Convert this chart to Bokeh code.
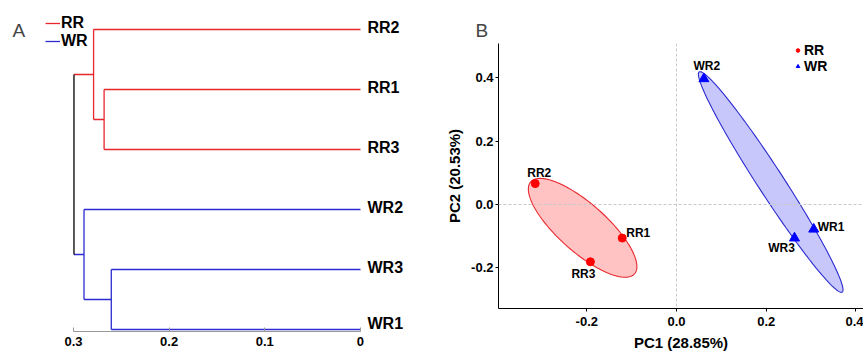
import numpy as np
from jinja2 import Template
from bokeh.plotting import figure
from bokeh.models import (Range1d, LinearAxis, FixedTicker, Legend, LegendItem,
                          Label, Span, ColumnDataSource)
from bokeh.core.properties import value
from bokeh.embed import file_html
from bokeh.resources import INLINE

FONT = "Liberation Sans"

# ---------------- data: dendrogram (panel A) ----------------
leaf_names = ["RR2", "RR1", "RR3", "WR2", "WR3", "WR1"]
leaf_group = ["RR", "RR", "RR", "WR", "WR", "WR"]
# merges: (child a, child b, height); leaves are 0..5, new nodes numbered 6..
merge_a = [1, 0, 4, 3, 7]
merge_b = [2, 6, 5, 8, 9]
merge_h = [0.268, 0.279, 0.2605, 0.289, 0.2995]
dist_ticks = [0, 0.1, 0.2, 0.3]
dist_tick_labels = ["0", "0.1", "0.2", "0.3"]

# ---------------- data: PCA (panel B) ----------------
pc_labels = ["RR1", "RR2", "RR3", "WR1", "WR2", "WR3"]
pc_group = ["RR", "RR", "RR", "WR", "WR", "WR"]
pc1 = [-0.121, -0.315, -0.192, 0.306, 0.061, 0.263]
pc2 = [-0.106, 0.066, -0.181, -0.078, 0.397, -0.106]
pc_ticks = [-0.2, 0.0, 0.2, 0.4]
pc_tick_labels = ["-0.2", "0.0", "0.2", "0.4"]
pc1_title = "PC1 (28.85%)"
pc2_title = "PC2 (20.53%)"
ellipse_level = 0.68

# ---------------- styles ----------------
RED = "#E8262B"
BLUE = "#2B2BD0"
group_color = {"RR": RED, "WR": BLUE}
leaf_dy = [-2, -2, -2, -2, -2, -6]          # leaf label offsets in px
lab_dx = [4, 4, -7, 4, 3, -13]               # PCA label offsets in px
lab_dy = [-5, -11, 12, -2, -13, 10]
lab_align = ["left", "center", "center", "left", "center", "center"]

# ================= Panel A =================
pA = figure(width=430, height=352, x_range=Range1d(0.3763, -0.0732),
            y_range=Range1d(0.967, 6.483), output_backend="svg",
            toolbar_location=None, x_axis_location=None, y_axis_location=None,
            min_border_left=0, min_border_right=0, min_border_top=0,
            min_border_bottom=21)
pA.outline_line_color = None
pA.grid.visible = False

n = len(leaf_names)
node_y = [float(n - i) for i in range(n)]
node_h = [0.0] * n
node_grp = list(leaf_group)
segs = {"RR": dict(x0=[], y0=[], x1=[], y1=[]),
        "WR": dict(x0=[], y0=[], x1=[], y1=[]),
        "root": dict(x0=[], y0=[], x1=[], y1=[])}

def add(key, x0, y0, x1, y1):
    s = segs[key]
    s["x0"].append(x0); s["y0"].append(y0); s["x1"].append(x1); s["y1"].append(y1)

for a, b, h in zip(merge_a, merge_b, merge_h):
    ga, gb = node_grp[a], node_grp[b]
    g = ga if ga == gb else "root"
    add(ga, node_h[a], node_y[a], h, node_y[a])
    add(gb, node_h[b], node_y[b], h, node_y[b])
    add(g, h, node_y[a], h, node_y[b])
    node_y.append((node_y[a] + node_y[b]) / 2)
    node_h.append(h)
    node_grp.append(g)

r_red = pA.segment(source=ColumnDataSource(segs["RR"]), x0="x0", y0="y0", x1="x1", y1="y1",
                   line_color=RED, line_width=1.3)
r_blue = pA.segment(source=ColumnDataSource(segs["WR"]), x0="x0", y0="y0", x1="x1", y1="y1",
                    line_color=BLUE, line_width=1.3)
pA.segment(source=ColumnDataSource(segs["root"]), x0="x0", y0="y0", x1="x1", y1="y1",
           line_color="black", line_width=1.3)

pA.text(source=ColumnDataSource(dict(x=[0.0] * n, y=node_y[:n], text=leaf_names, dy=leaf_dy)),
        x="x", y="y", text="text", x_offset=7, y_offset="dy",
        text_baseline="middle", text_align="left", text_font=value(FONT),
        text_font_style="bold", text_font_size="16px", text_color="black")

axA = LinearAxis(bounds=(0, 0.3), ticker=FixedTicker(ticks=dist_ticks),
                 major_label_overrides=dict(zip(dist_ticks, dist_tick_labels)))
axA.axis_line_color = "#999999"
axA.major_tick_line_color = "#999999"
axA.major_tick_in = 4
axA.major_tick_out = 0
axA.minor_tick_line_color = None
axA.major_label_standoff = 5
axA.major_label_text_font = FONT
axA.major_label_text_font_style = "bold"
axA.major_label_text_font_size = "13px"
axA.major_label_text_color = "black"
pA.add_layout(axA, "below")

legA = Legend(items=[LegendItem(label="RR", renderers=[r_red]),
                     LegendItem(label="WR", renderers=[r_blue])],
              location=(45, 281), orientation="vertical", glyph_width=15,
              glyph_height=18, label_height=18, spacing=0, padding=0, margin=0,
              label_standoff=1, border_line_alpha=0, background_fill_alpha=0,
              label_text_font=FONT, label_text_font_style="bold",
              label_text_font_size="16px", label_text_color="black")
pA.add_layout(legA, "center")
pA.add_layout(Label(x=12, y=301, x_units="screen", y_units="screen", text="A",
                    text_font=FONT, text_font_size="19px", text_baseline="middle"))

# ================= Panel B =================
pB = figure(width=433, height=356, x_range=Range1d(-0.3969, 0.4169),
            y_range=Range1d(-0.3284, 0.5084), output_backend="svg",
            toolbar_location=None, min_border_left=68, min_border_right=0,
            min_border_top=43, min_border_bottom=48)
pB.outline_line_color = None
pB.grid.visible = False
pB.title.text = "B"
pB.title.text_font = FONT
pB.title.text_font_style = "normal"
pB.title.text_font_size = "19px"
pB.title.align = "left"
pB.title.offset = -23
pB.title.standoff = 5

pB.add_layout(Span(location=0, dimension="width", line_color="#C8C8C8",
                   line_dash="3 2", line_width=1))
pB.add_layout(Span(location=0, dimension="height", line_color="#C8C8C8",
                   line_dash="3 2", line_width=1))

t = np.linspace(0, 2 * np.pi, 200)
k2 = -2 * np.log(1 - ellipse_level)
fills = {"RR": ("#FF2020", 0.27), "WR": ("#3535F0", 0.28)}
x_arr = np.array(pc1); y_arr = np.array(pc2); g_arr = np.array(pc_group)
for g in ["RR", "WR"]:
    m = g_arr == g
    pts = np.vstack([x_arr[m], y_arr[m]])
    mu = pts.mean(axis=1)
    cov = np.cov(pts, bias=True)
    L = np.linalg.cholesky(k2 * cov)
    e = mu[:, None] + L @ np.vstack([np.cos(t), np.sin(t)])
    pB.patch(e[0], e[1], fill_color=fills[g][0], fill_alpha=fills[g][1],
             line_color=group_color[g], line_width=1.1)

src_rr = ColumnDataSource(dict(x=x_arr[g_arr == "RR"], y=y_arr[g_arr == "RR"]))
src_wr = ColumnDataSource(dict(x=x_arr[g_arr == "WR"], y=y_arr[g_arr == "WR"]))
s_rr = pB.scatter("x", "y", source=src_rr, marker="circle", size=8,
                  fill_color="#FF0000", line_color="#FF0000")
s_wr = pB.scatter("x", "y", source=src_wr, marker="triangle", size=10,
                  fill_color="#0000FF", line_color="#0000FF")

pB.text(source=ColumnDataSource(dict(x=pc1, y=pc2, text=pc_labels, dx=lab_dx,
                                     dy=lab_dy, al=lab_align)),
        x="x", y="y", text="text", x_offset="dx", y_offset="dy", text_align="al",
        text_baseline="middle", text_font=value(FONT), text_font_style="bold",
        text_font_size="12px", text_color="black")

for ax in (pB.xaxis[0], pB.yaxis[0]):
    ax.ticker = FixedTicker(ticks=pc_ticks)
    ax.major_label_overrides = dict(zip(pc_ticks, pc_tick_labels))
    ax.axis_line_color = "black"
    ax.major_tick_line_color = "black"
    ax.major_tick_in = 0
    ax.major_tick_out = 3
    ax.minor_tick_line_color = None
    ax.major_label_text_font = FONT
    ax.major_label_text_font_style = "bold"
    ax.major_label_text_font_size = "13px"
    ax.major_label_text_color = "black"
    ax.axis_label_text_font = FONT
    ax.axis_label_text_font_style = "bold"
    ax.axis_label_text_font_size = "15px"
    ax.axis_label_text_color = "black"
pB.xaxis[0].major_label_standoff = 5
pB.xaxis[0].axis_label_standoff = 5
pB.yaxis[0].major_label_standoff = 2
pB.yaxis[0].axis_label_standoff = 5
pB.xaxis[0].axis_label = pc1_title
pB.yaxis[0].axis_label = pc2_title

legB = Legend(items=[LegendItem(label="RR", renderers=[s_rr]),
                     LegendItem(label="WR", renderers=[s_wr])],
              location=(295, 234), orientation="vertical", glyph_width=9,
              glyph_height=14, label_height=14, spacing=0, padding=0, margin=0,
              label_standoff=2, border_line_alpha=0, background_fill_alpha=0,
              label_text_font=FONT, label_text_font_style="bold",
              label_text_font_size="14px", label_text_color="black")
pB.add_layout(legB, "center")

# two independent roots placed side by side (no shared frame alignment)
TEMPLATE = Template("""{% from macros import embed %}<!DOCTYPE html>
<html lang="en">
<head>
<meta charset="utf-8">
<title>{{ title }}</title>
{{ bokeh_css }}
{{ bokeh_js }}
<style>html, body { margin: 0; padding: 0; overflow: hidden; } .wrap { display: flex; flex-direction: row; align-items: flex-start; }</style>
</head>
<body>
<div class="wrap">
{% for doc in docs %}{% for root in doc.roots %}{{ embed(root) }}{% endfor %}{% endfor %}
</div>
{{ plot_script }}
</body>
</html>
""")

open("out.html", "w").write(file_html([pA, pB], INLINE, template=TEMPLATE))
